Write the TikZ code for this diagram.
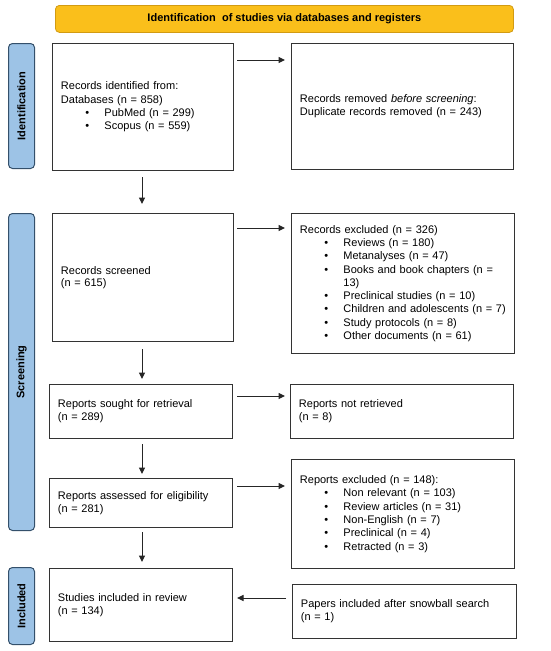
\documentclass[tikz,border=0pt]{standalone}
\usepackage{fontspec}
\setmainfont{Liberation Sans}
\usetikzlibrary{arrows.meta}
\definecolor{hdrfill}{HTML}{FABF1B}
\definecolor{hdrdraw}{HTML}{D29B12}
\definecolor{sidefill}{HTML}{9DC3E6}
\definecolor{sidedraw}{HTML}{34506B}
\newcommand{\bitem}[1]{\hspace*{24.5pt}\makebox[19pt][l]{•}#1}
\newcommand{\bcont}[1]{\hspace*{43.5pt}#1}
\begin{document}
\begin{tikzpicture}[x=1pt,y=-1pt,
  box/.style={draw=black!80, line width=0.9pt, inner xsep=8.5pt, inner ysep=0pt,
    align=left, font=\fontsize{11}{13.3}\selectfont, anchor=north west},
  side/.style={draw=sidedraw, fill=sidefill, line width=1pt, rounded corners=4pt},
  sidetext/.style={font=\bfseries\fontsize{11}{13}\selectfont, rotate=90},
  arr/.style={draw=black!85, line width=1pt, -{Triangle[length=6.5pt,width=6pt]}}]
\useasboundingbox (0,0) rectangle (550,651);
% header
\node[draw=hdrdraw, fill=hdrfill, line width=0.8pt, rounded corners=4pt,
  minimum width=458pt, minimum height=27pt, anchor=north west,
  font=\bfseries\fontsize{11}{13}\selectfont] (hdr) at (55,5)
  {Identification\ \ of studies via databases and registers};
% side bars
\node[side, minimum width=26pt, minimum height=125pt, anchor=north west] (sid) at (8,43) {};
\node[sidetext] at (sid.center) {Identification};
\node[side, minimum width=26pt, minimum height=317pt, anchor=north west] (sscr) at (8,213) {};
\node[sidetext] at (sscr.center) {Screening};
\node[side, minimum width=26pt, minimum height=77pt, anchor=north west] (sinc) at (8,567) {};
\node[sidetext] at (sinc.center) {Included};
% boxes
\node[box, text width=164pt, minimum height=127pt] (b1) at (52,43)
  {Records identified from:\\Databases (n = 858)\\\bitem{PubMed (n = 299)}\\\bitem{Scopus (n = 559)}};
\node[box, text width=205pt, minimum height=126pt] (b2) at (291,43)
  {Records removed \emph{before screening}:\\Duplicate records removed (n = 243)};
\node[box, text width=164pt, minimum height=128pt, font=\fontsize{11}{11.5}\selectfont] (b3) at (52,213)
  {Records screened\\(n = 615)};
\node[box, text width=206pt, minimum height=140pt] (b4) at (291,213)
  {Records excluded (n = 326)\\\bitem{Reviews (n = 180)}\\\bitem{Metanalyses (n = 47)}\\\bitem{Books and book chapters (n =}\\\bcont{13)}\\\bitem{Preclinical studies (n = 10)}\\\bitem{Children and adolescents (n = 7)}\\\bitem{Study protocols (n = 8)}\\\bitem{Other documents (n = 61)}};
\node[box, text width=166pt, minimum height=54pt] (b5) at (49,384)
  {Reports sought for retrieval\\(n = 289)};
\node[box, text width=206pt, minimum height=54pt] (b6) at (290,384)
  {Reports not retrieved\\(n = 8)};
\node[box, text width=166pt, minimum height=49pt] (b7) at (49,478)
  {Reports assessed for eligibility\\(n = 281)};
\node[box, text width=206pt, minimum height=109pt] (b8) at (291,459)
  {Reports excluded (n = 148):\\\bitem{Non relevant (n = 103)}\\\bitem{Review articles (n = 31)}\\\bitem{Non-English (n = 7)}\\\bitem{Preclinical (n = 4)}\\\bitem{Retracted (n = 3)}};
\node[box, text width=166pt, minimum height=73pt] (b9) at (49,568)
  {Studies included in review\\(n = 134)};
\node[box, text width=207pt, minimum height=54pt] (b10) at (292,584)
  {Papers included after snowball search\\(n = 1)};
% connectors
\coordinate (a1s) at (237,60); \coordinate (a1e) at (285,60);
\draw[arr] (a1s) -- (a1e);
\coordinate (d1s) at (142,177); \coordinate (d1e) at (142,204);
\draw[arr] (d1s) -- (d1e);
\coordinate (a2s) at (237,228); \coordinate (a2e) at (285,228);
\draw[arr] (a2s) -- (a2e);
\coordinate (d2s) at (142,349); \coordinate (d2e) at (142,379);
\draw[arr] (d2s) -- (d2e);
\coordinate (a3s) at (237,396); \coordinate (a3e) at (285,396);
\draw[arr] (a3s) -- (a3e);
\coordinate (d3s) at (142,444); \coordinate (d3e) at (142,474);
\draw[arr] (d3s) -- (d3e);
\coordinate (a4s) at (237,486); \coordinate (a4e) at (285,486);
\draw[arr] (a4s) -- (a4e);
\coordinate (d4s) at (142,532); \coordinate (d4e) at (142,562);
\draw[arr] (d4s) -- (d4e);
\coordinate (a5s) at (286,598); \coordinate (a5e) at (237,598);
\draw[arr] (a5s) -- (a5e);
\end{tikzpicture}
\end{document}
